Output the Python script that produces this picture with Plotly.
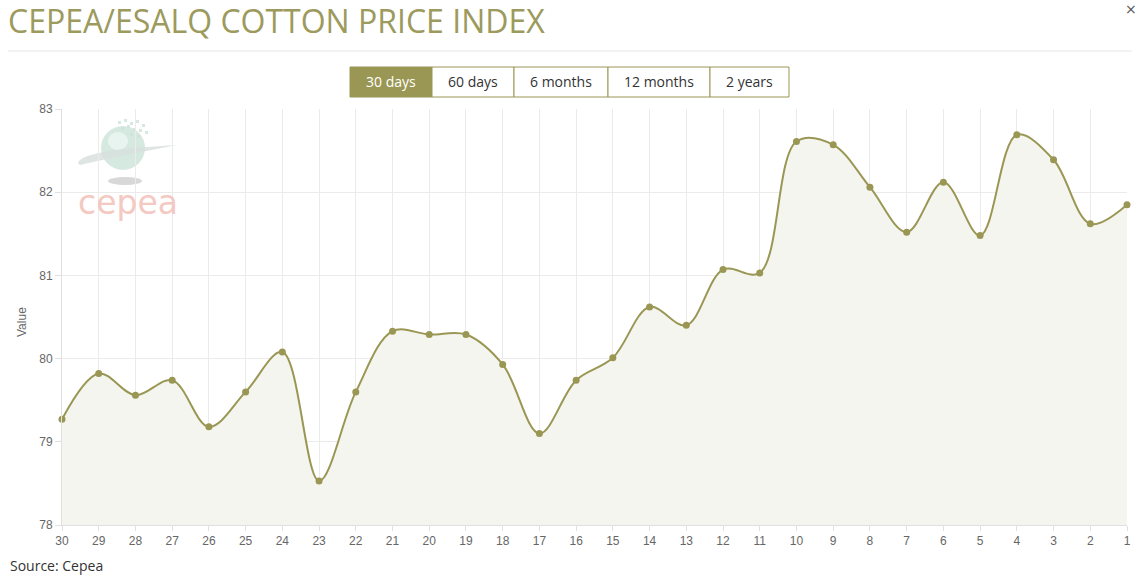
import plotly.graph_objects as go

# ---------------- data ----------------
day_labels = ["30", "29", "28", "27", "26", "25", "24", "23", "22", "21",
              "20", "19", "18", "17", "16", "15", "14", "13", "12", "11",
              "10", "9", "8", "7", "6", "5", "4", "3", "2", "1"]
index_values = [79.27, 79.82, 79.56, 79.74, 79.18, 79.60, 80.08, 78.53, 79.60, 80.33,
                80.29, 80.29, 79.93, 79.10, 79.74, 80.01, 80.62, 80.40, 81.07, 81.03,
                82.61, 82.57, 82.06, 81.52, 82.12, 81.48, 82.69, 82.39, 81.62, 81.85]
y_ticks = [78, 79, 80, 81, 82, 83]
range_buttons = ["30 days", "60 days", "6 months", "12 months", "2 years"]

OLIVE = "#9a9754"
W, H = 1143, 582
L, R, T, B = 62, 16, 109, 57
PW, PH = W - L - R, H - T - B


def px(x):
    return (x - L) / PW


def py(y):
    return (H - B - y) / PH


fig = go.Figure()
fig.add_trace(go.Scatter(
    x=day_labels, y=index_values, mode="lines+markers",
    line=dict(color=OLIVE, width=2, shape="spline", smoothing=1.0),
    marker=dict(color=OLIVE, size=7),
    fill="tozeroy", fillcolor="#f5f5f0",
    cliponaxis=False, hoverinfo="x+y", showlegend=False,
))

shapes = []
annotations = []

# separator under the title
shapes.append(dict(type="line", xref="paper", yref="paper",
                   x0=px(8), x1=px(1132), y0=py(51), y1=py(51),
                   line=dict(color="#e6e6e6", width=1)))

# range buttons
btn_edges = [350, 432, 514, 608, 710, 789]
for i, lab in enumerate(range_buttons):
    x0, x1 = btn_edges[i], btn_edges[i + 1]
    active = i == 0
    shapes.append(dict(type="rect", xref="paper", yref="paper",
                       x0=px(x0), x1=px(x1), y0=py(97), y1=py(67),
                       fillcolor=OLIVE if active else "white",
                       line=dict(color=OLIVE, width=1), layer="above"))
    annotations.append(dict(xref="paper", yref="paper",
                            x=px((x0 + x1) / 2), y=py(82), text=lab, showarrow=False,
                            xanchor="center", yanchor="middle",
                            font=dict(family="Open Sans", size=14,
                                      color="white" if active else "#333333")))

# watermark logo (decoration)
shapes.append(dict(type="circle", xref="paper", yref="paper",
                   x0=px(101), x1=px(145), y0=py(170), y1=py(126),
                   fillcolor="rgba(200,225,215,0.75)", line=dict(width=0), layer="below"))
shapes.append(dict(type="circle", xref="paper", yref="paper",
                   x0=px(108), x1=px(128), y0=py(150), y1=py(132),
                   fillcolor="rgba(240,248,245,0.7)", line=dict(width=0), layer="below"))
ring = (f"M {px(78)},{py(163)} Q {px(80)},{py(150)} {px(177)},{py(145)} "
        f"Q {px(110)},{py(158)} {px(80)},{py(165)} Z")
shapes.append(dict(type="path", xref="paper", yref="paper", path=ring,
                   fillcolor="rgba(215,222,220,0.8)", line=dict(width=0), layer="below"))
shapes.append(dict(type="circle", xref="paper", yref="paper",
                   x0=px(108), x1=px(142), y0=py(185), y1=py(177),
                   fillcolor="rgba(200,200,200,0.7)", line=dict(width=0), layer="below"))
for dx, dy in [(118, 121), (124, 119), (130, 122), (136, 120), (142, 124), (121, 127),
               (127, 125), (133, 128), (139, 129), (145, 131), (130, 133), (137, 135)]:
    shapes.append(dict(type="rect", xref="paper", yref="paper",
                       x0=px(dx), x1=px(dx + 3), y0=py(dy + 3), y1=py(dy),
                       fillcolor="rgba(205,225,218,0.8)", line=dict(width=0), layer="below"))
annotations.append(dict(xref="paper", yref="paper", x=px(128), y=py(202), text="cepea",
                        showarrow=False, xanchor="center", yanchor="middle",
                        font=dict(family="DejaVu Sans", size=33, color="#f3c9c2")))

# title, source, y label, close mark
annotations.append(dict(xref="paper", yref="paper", x=px(6), y=py(20),
                        text="CEPEA/ESALQ COTTON PRICE INDEX", showarrow=False,
                        xanchor="left", yanchor="middle",
                        font=dict(family="Open Sans", size=32, color="#9c9a5c")))
annotations.append(dict(xref="paper", yref="paper", x=px(8), y=py(565),
                        text="Source: Cepea", showarrow=False,
                        xanchor="left", yanchor="middle",
                        font=dict(family="Open Sans", size=14, color="#333333")))
annotations.append(dict(xref="paper", yref="paper", x=px(22), y=py(322),
                        text="Value", showarrow=False, textangle=-90,
                        xanchor="center", yanchor="middle",
                        font=dict(family="Liberation Sans", size=12, color="#666666")))
annotations.append(dict(xref="paper", yref="paper", x=px(1139), y=py(9),
                        text="×", showarrow=False, xanchor="right", yanchor="middle",
                        font=dict(family="DejaVu Sans", size=14, color="#555555")))

fig.update_layout(
    width=W, height=H, autosize=False,
    margin=dict(l=L, r=R, t=T, b=B, pad=0),
    paper_bgcolor="white", plot_bgcolor="white",
    shapes=shapes, annotations=annotations,
    xaxis=dict(type="category", range=[0, len(day_labels) - 1],
               showgrid=True, gridcolor="#ebebeb", gridwidth=1,
               ticks="outside", ticklen=5, tickcolor="#e0e0e0",
               showline=True, linecolor="#e0e0e0", linewidth=1,
               tickfont=dict(family="Liberation Sans", size=12, color="#666666"),
               zeroline=False, fixedrange=True),
    yaxis=dict(range=[y_ticks[0], y_ticks[-1]], tickvals=y_ticks,
               showgrid=True, gridcolor="#ebebeb", gridwidth=1,
               ticks="outside", ticklen=6, tickcolor="#e0e0e0",
               showline=True, linecolor="#e0e0e0", linewidth=1,
               tickfont=dict(family="Liberation Sans", size=12, color="#666666"),
               zeroline=False, fixedrange=True),
)

fig.write_html("out.html", config={"displayModeBar": False},
               post_script="document.body.style.margin='0';document.body.style.overflow='hidden';")
